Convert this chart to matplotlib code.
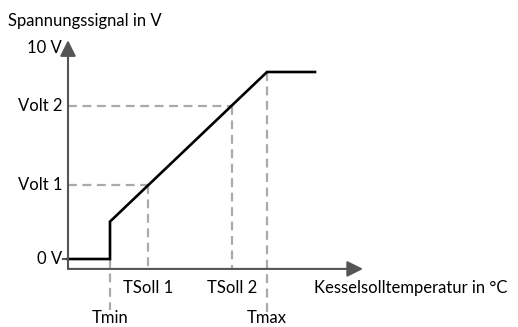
import matplotlib.pyplot as plt

plt.rcParams['font.family'] = ['Lato', 'DejaVu Sans']

# characteristic curve: temperature setpoint (arbitrary units) -> voltage signal
t_min, t_soll1, t_soll2, t_max, t_end = 4.2, 8.0, 16.4, 19.9, 24.7
v_zero, v_jump, v_volt1, v_volt2, v_max = 0.0, 2.0, 3.94, 8.2, 10.0

curve_x = [0.0, t_min, t_min, t_max, t_end]
curve_y = [v_zero, v_zero, v_jump, v_max, v_max]

y_labels = ['0 V', 'Volt 1', 'Volt 2', '10 V']
y_label_vals = [v_zero, v_volt1, v_volt2, 11.3]

fig = plt.figure(figsize=(5.18, 3.27), dpi=100)
ax = fig.add_axes([0, 0, 1, 1])
ax.set_xlim(-6.8, 45.0)
ax.set_ylim(-3.636, 13.85)
ax.axis('off')

axis_col = '#555555'
dash_col = '#aaaaaa'
x_axis_y = -0.53
fs = 12

# axes with arrow heads
ax.annotate('', xy=(29.5, x_axis_y), xytext=(0, x_axis_y),
            arrowprops=dict(arrowstyle='-|>', mutation_scale=24, color=axis_col, lw=1.5,
                            shrinkA=0, shrinkB=0))
ax.annotate('', xy=(0, 11.7), xytext=(0, x_axis_y),
            arrowprops=dict(arrowstyle='-|>', mutation_scale=24, color=axis_col, lw=1.5,
                            shrinkA=0, shrinkB=0))
ax.plot([-0.5, 0], [v_zero, v_zero], color=axis_col, lw=1.5)

dash = dict(color=dash_col, lw=1.6, dashes=(4, 2.5))
# helper lines
ax.plot([0, t_soll1], [v_volt1, v_volt1], **dash)
ax.plot([t_soll1, t_soll1], [v_volt1, x_axis_y], **dash)
ax.plot([0, t_soll2], [v_volt2, v_volt2], **dash)
ax.plot([t_soll2, t_soll2], [v_volt2, x_axis_y], **dash)
ax.plot([t_min, t_min], [v_zero, -2.75], **dash)
ax.plot([t_max, t_max], [v_max, -2.95], **dash)

ax.plot(curve_x, curve_y, color='black', lw=1.9, solid_joinstyle='miter')

for lab, v in zip(y_labels, y_label_vals):
    ax.text(-0.6, v, lab, ha='right', va='center', fontsize=fs)

ax.text(-6.0, 12.75, 'Spannungssignal in V', ha='left', va='center', fontsize=fs)
ax.text(t_soll1, -1.55, 'TSoll 1', ha='center', va='center', fontsize=fs)
ax.text(t_soll2, -1.55, 'TSoll 2', ha='center', va='center', fontsize=fs)
ax.text(24.6, -1.55, 'Kesselsolltemperatur in °C', ha='left', va='center', fontsize=fs)
ax.text(t_min, -3.6, 'Tmin', ha='center', va='bottom', fontsize=fs)
ax.text(t_max, -3.6, 'Tmax', ha='center', va='bottom', fontsize=fs)

fig.savefig('out.png', dpi=100)
